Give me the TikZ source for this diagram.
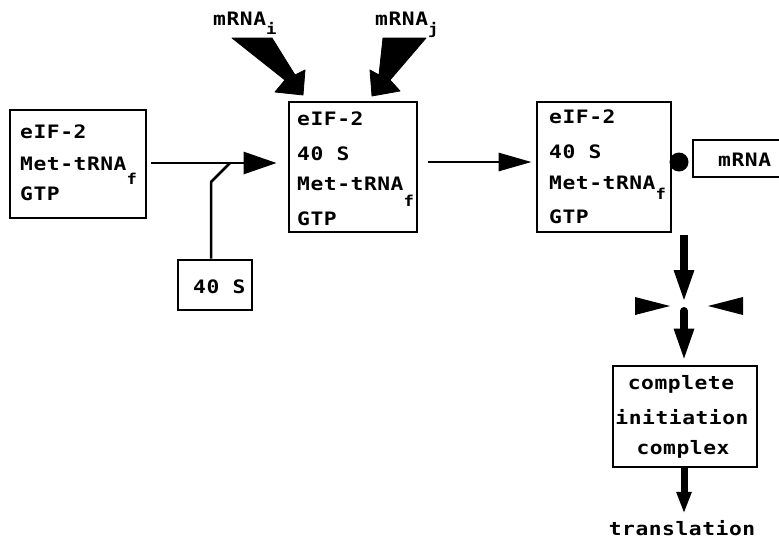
\documentclass[tikz,border=0pt]{standalone}
\usepackage{fontspec}
\usetikzlibrary{arrows.meta}
\newfontfamily\diafont[LetterSpace=3,FakeStretch=1.15,BoldFont={DejaVu Sans Mono Bold},BoldFeatures={LetterSpace=3,FakeStretch=1.15}]{DejaVu Sans Mono}
\newcommand{\lowsub}[2]{\raisebox{-#1}{\fontsize{15}{15}\selectfont #2}}
\begin{document}
\begin{tikzpicture}[x=1pt,y=-1pt,
  box/.style={draw,line width=2.8pt,rectangle,inner sep=0pt},
  txt/.style={font=\diafont\bfseries\fontsize{18.5}{19}\selectfont,inner sep=0pt,anchor=base west},
  ctxt/.style={font=\diafont\bfseries\fontsize{18.5}{19}\selectfont,inner sep=0pt,anchor=base},
  harr/.style={line width=2.8pt,-{Triangle[length=33pt,width=22pt]}},
  varr/.style={line width=8pt,-{Triangle[length=33pt,width=18pt]}},
  sarr/.style={line width=7pt,-{Triangle[length=22pt,width=14pt]}},
  fat/.style={fill=black,draw=black,line width=0.8pt,line join=round}
]
\useasboundingbox (0,0) rectangle (779,539);
\fill[white] (0,0) rectangle (779,539);

% boxes
\node[box,minimum width=136pt,minimum height=108pt] (b1) at (78,164) {};
\node[box,minimum width=128pt,minimum height=130pt] (b2) at (353,167) {};
\node[box,minimum width=134pt,minimum height=130pt] (b3) at (604,167) {};
\node[box,minimum width=74pt,minimum height=50pt] (s40) at (215,285) {};
\node[box,minimum width=144pt,minimum height=101pt] (cic) at (685,416.5) {};
\node[box,minimum width=130pt,minimum height=37pt] (mbox) at (758,158.5) {};

% texts box 1
\node[txt] (t1a) at (20,138) {eIF-2};
\node[txt] (t1b) at (20,170) {Met-tRNA\lowsub{14pt}{f}};
\node[txt] (t1c) at (20,200) {GTP};
% box 2
\node[txt] (t2a) at (297,125) {eIF-2};
\node[txt] (t2b) at (297,160) {40 S};
\node[txt] (t2c) at (297,190) {Met-tRNA\lowsub{16pt}{f}};
\node[txt] (t2d) at (297,225) {GTP};
% box 3
\node[txt] (t3a) at (549,123) {eIF-2};
\node[txt] (t3b) at (549,158) {40 S};
\node[txt] (t3c) at (549,189) {Met-tRNA\lowsub{10pt}{f}};
\node[txt] (t3d) at (549,223) {GTP};
% 40 S box
\node[txt] (t40) at (193,293) {40 S};
% mRNA box
\node[txt] (tm) at (718,166) {mRNA};
% complete initiation complex
\node[ctxt] (c1) at (681,389) {complete};
\node[ctxt] (c2) at (682,424) {initiation};
\node[ctxt] (c3) at (683,454) {complex};
\node[ctxt] (trans) at (682,535) {translation};
% mRNA labels
\node[txt] (mi) at (213,25) {mRNA\lowsub{9pt}{i}};
\node[txt] (mj) at (375,25) {mRNA\lowsub{9pt}{j}};

% dot
\node[circle,fill=black,minimum size=19pt,inner sep=0pt] (dot) at (679,162) {};

% coordinates
\coordinate (j1) at (230,163);
\coordinate (k1) at (211,182);
\coordinate (d0) at (684,235);
\coordinate (x1) at (684,303);
\coordinate (x2) at (684,311);

% horizontal arrows
\draw[harr,shorten <=4pt,shorten >=11pt] (b1.east |- j1) -- (b2.west |- j1);
\draw[line width=2.5pt,line join=round] (k1 |- s40.north) -- (k1) -- (j1);
\draw[line width=2.8pt,-{Triangle[length=33pt,width=18pt]},shorten <=10pt,shorten >=4pt] (b2.east |- dot) -- (b3.west |- dot);

% vertical arrows
\draw[varr] (d0) -- (x1);
\draw[varr,line cap=round,shorten >=3pt] (x2) -- (cic.north -| x2);
\draw[sarr,shorten >=6pt] (cic.south -| x2) -- (trans.north -| x2);

% side arrowheads
\fill (635,297) -- (670,306) -- (635,315) -- cycle;
\fill (743,297) -- (708,306) -- (743,315) -- cycle;

% fat mRNA arrows
\filldraw[fat] (232,38) -- (272,38) -- (295,75) -- (305,70) -- (303,95) -- (275,92) -- (285,80) -- cycle;
\filldraw[fat] (426,38) -- (383,38) -- (379,75) -- (370,70) -- (372,96) -- (400,91) -- (390,80) -- cycle;
\end{tikzpicture}
\end{document}
